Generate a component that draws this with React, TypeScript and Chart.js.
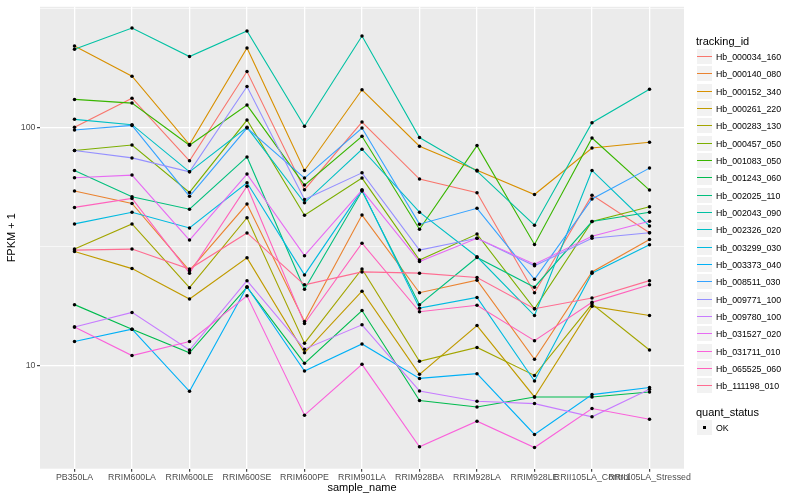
import React, { useEffect, useRef } from "react";
import { Chart, registerables } from "chart.js";

Chart.register(...registerables);

const categories = [
  "PB350LA",
  "RRIM600LA",
  "RRIM600LE",
  "RRIM600SE",
  "RRIM600PE",
  "RRIM901LA",
  "RRIM928BA",
  "RRIM928LA",
  "RRIM928LE",
  "RRII105LA_Control",
  "RRII105LA_Stressed",
];

const seriesNames = [
  "Hb_000034_160",
  "Hb_000140_080",
  "Hb_000152_340",
  "Hb_000261_220",
  "Hb_000283_130",
  "Hb_000457_050",
  "Hb_001083_050",
  "Hb_001243_060",
  "Hb_002025_110",
  "Hb_002043_090",
  "Hb_002326_020",
  "Hb_003299_030",
  "Hb_003373_040",
  "Hb_008511_030",
  "Hb_009771_100",
  "Hb_009780_100",
  "Hb_031527_020",
  "Hb_031711_010",
  "Hb_065525_060",
  "Hb_111198_010",
];

const seriesColors = [
  "#F8766D", "#EA8331", "#D89000", "#C09B00", "#A3A500",
  "#7CAE00", "#39B600", "#00BB4E", "#00BF7D", "#00C1A3",
  "#00BFC4", "#00BAE0", "#00B0F6", "#35A2FF", "#9590FF",
  "#C77CFF", "#E76BF3", "#FA62DB", "#FF62BC", "#FF6C91",
];

// FPKM + 1 values, one per sample
const hb000034_160 = [100, 132.6, 72.3, 171.5, 54.7, 105.2, 60.6, 53.1, 20.2, 51.9, 36.1];
const hb000140_080 = [54.0, 47.9, 25.0, 47.6, 15.3, 42.8, 20.2, 22.8, 10.6, 24.7, 33.8];
const hb000152_340 = [219.7, 163.9, 84.7, 215.5, 65.9, 143.8, 83.3, 66.1, 52.2, 81.9, 86.5];
const hb000261_220 = [30.1, 25.5, 19.0, 28.3, 11.3, 20.5, 9.17, 14.7, 7.37, 17.7, 16.2];
const hb000283_130 = [30.8, 39.3, 21.2, 41.7, 12.4, 25.4, 10.4, 11.9, 9.08, 18.1, 11.6];
const hb000457_050 = [79.9, 84.3, 53.3, 107.3, 42.7, 61.2, 27.7, 35.6, 17.3, 40.2, 46.4];
const hb001083_050 = [131.0, 126.4, 84.1, 124.0, 57.2, 91.7, 37.3, 83.8, 32.2, 90.2, 54.5];
const hb001243_060 = [18.0, 14.2, 11.3, 21.3, 10.2, 17.0, 7.12, 6.69, 7.37, 7.37, 7.73];
const hb002025_110 = [65.9, 51.1, 45.3, 75.1, 20.9, 54.0, 18.0, 28.4, 21.3, 40.2, 44.0];
const hb002043_090 = [212.6, 261.3, 198.2, 253.9, 101.0, 241.9, 90.6, 65.5, 38.8, 104.6, 144.6];
const hb002326_020 = [108.0, 102.6, 65.0, 100.0, 48.2, 80.9, 44.0, 28.6, 16.2, 65.9, 38.5];
const hb003299_030 = [39.3, 44.0, 37.8, 58.5, 24.0, 54.5, 17.4, 19.3, 8.6, 24.4, 32.1];
const hb003373_040 = [12.6, 14.2, 7.78, 21.4, 9.47, 12.3, 8.82, 9.23, 5.13, 7.54, 8.07];
const hb008511_030 = [97.4, 101.9, 51.3, 99.3, 61.2, 99.3, 39.2, 45.7, 23.0, 50.0, 67.4];
const hb009771_100 = [79.9, 74.4, 65.0, 148.4, 49.8, 64.4, 30.5, 34.2, 26.2, 34.2, 36.1];
const hb009780_100 = [14.5, 16.7, 11.6, 22.7, 11.7, 14.8, 7.81, 7.07, 6.91, 6.08, 7.94];
const hb031527_020 = [61.4, 63.0, 33.6, 63.6, 28.9, 54.5, 27.3, 34.2, 26.6, 34.9, 40.3];
const hb031711_010 = [14.5, 11.0, 12.6, 19.6, 6.18, 10.1, 4.55, 5.83, 4.52, 6.59, 5.94];
const hb065525_060 = [46.1, 50.3, 24.4, 56.6, 15.0, 32.6, 16.8, 17.9, 12.7, 18.4, 21.8];
const hb111198_010 = [30.5, 30.8, 25.4, 36.0, 21.8, 24.7, 24.4, 23.4, 17.3, 19.2, 22.7];

const seriesValues = [
  hb000034_160, hb000140_080, hb000152_340, hb000261_220, hb000283_130,
  hb000457_050, hb001083_050, hb001243_060, hb002025_110, hb002043_090,
  hb002326_020, hb003299_030, hb003373_040, hb008511_030, hb009771_100,
  hb009780_100, hb031527_020, hb031711_010, hb065525_060, hb111198_010,
];

const yMajorTicks = [10, 100];
const yMinorTicks = [31.6228, 316.228];
const quantStatus = ["OK"];

const FONT = '"Liberation Sans", Arial, Helvetica, sans-serif';

const panelBg = {
  id: "panelBg",
  beforeDraw(chart: any) {
    const { ctx, chartArea } = chart;
    ctx.save();
    ctx.fillStyle = "#EBEBEB";
    ctx.fillRect(chartArea.left, chartArea.top, chartArea.right - chartArea.left, chartArea.bottom - chartArea.top);
    ctx.restore();
  },
};

const pointsOnTop = {
  id: "pointsOnTop",
  afterDatasetsDraw(chart: any) {
    const { ctx } = chart;
    ctx.save();
    ctx.fillStyle = "#000000";
    chart.data.datasets.forEach((_: any, di: number) => {
      const meta = chart.getDatasetMeta(di);
      meta.data.forEach((el: any) => {
        ctx.beginPath();
        ctx.arc(el.x, el.y, 1.75, 0, Math.PI * 2);
        ctx.fill();
      });
    });
    ctx.restore();
  },
};

const isMajor = (v: number) => yMajorTicks.some((m) => Math.abs(m - v) < 1e-6);

export default function App() {
  const canvasRef = useRef<HTMLCanvasElement | null>(null);

  useEffect(() => {
    if (!canvasRef.current) return;
    const chart = new Chart(canvasRef.current, {
      type: "line",
      data: {
        datasets: seriesValues.map((vals, si) => ({
          label: seriesNames[si],
          data: vals.map((v, i) => ({ x: i + 1, y: v })),
          borderColor: seriesColors[si],
          backgroundColor: seriesColors[si],
          borderWidth: 1.1,
          pointRadius: 0,
          tension: 0,
          fill: false,
          order: seriesValues.length - si,
        })),
      },
      options: {
        animation: false,
        responsive: false,
        events: [],
        layout: { padding: { top: 5, right: 116, left: 0, bottom: 0 } },
        plugins: { legend: { display: false }, tooltip: { enabled: false } },
        scales: {
          x: {
            type: "linear",
            min: 0.4,
            max: 11.6,
            afterBuildTicks: (s: any) => {
              s.ticks = categories.map((_, i) => ({ value: i + 1 }));
            },
            afterFit: (s: any) => {
              s.height = 31.3;
            },
            ticks: {
              autoSkip: false,
              maxRotation: 0,
              minRotation: 0,
              padding: 1,
              color: "#4D4D4D",
              font: { family: FONT, size: 8.8 },
              callback: (_v: any, i: number) => categories[i],
            },
            grid: {
              color: "#FFFFFF",
              lineWidth: 1.3,
              drawTicks: true,
              tickLength: 3,
              tickColor: "#333333",
              tickWidth: 1.1,
            },
            border: { display: false },
            title: {
              display: true,
              text: "sample_name",
              color: "#000000",
              font: { family: FONT, size: 11 },
              padding: { top: 0, bottom: 5 },
            },
          },
          y: {
            type: "logarithmic",
            min: 3.682,
            max: 320.9,
            afterBuildTicks: (s: any) => {
              s.ticks = [...yMajorTicks, ...yMinorTicks].sort((a, b) => a - b).map((v) => ({ value: v }));
            },
            afterFit: (s: any) => {
              s.width = 40;
            },
            ticks: {
              autoSkip: false,
              padding: 1.5,
              color: "#4D4D4D",
              font: { family: FONT, size: 8.8 },
              callback: (v: any) => (isMajor(Number(v)) ? String(Math.round(Number(v))) : ""),
            },
            grid: {
              color: "#FFFFFF",
              lineWidth: (ctx: any) => (ctx.tick && isMajor(ctx.tick.value) ? 1.3 : 0.6),
              drawTicks: true,
              tickLength: 3,
              tickColor: (ctx: any) => (ctx.tick && isMajor(ctx.tick.value) ? "#333333" : "rgba(0,0,0,0)"),
              tickWidth: 1.1,
            },
            border: { display: false },
            title: {
              display: true,
              text: "FPKM + 1",
              color: "#000000",
              font: { family: FONT, size: 11 },
              padding: { top: 5.4, bottom: 0 },
            },
          },
        },
      },
      plugins: [panelBg, pointsOnTop],
    } as any);
    return () => chart.destroy();
  }, []);

  const rowH = 17.32;
  const firstRow = 56.7;

  return (
    <div style={{ position: "fixed", left: 0, top: 0, width: 800, height: 500, background: "#FFFFFF", fontFamily: FONT }}>
      <canvas ref={canvasRef} width={800} height={500} style={{ position: "absolute", left: 0, top: 0, width: 800, height: 500 }} />
      <div style={{ position: "absolute", left: 696, top: 34, height: 14, lineHeight: "14px", fontSize: 11, color: "#000" }}>
        tracking_id
      </div>
      {seriesNames.map((name, i) => {
        const top = Math.round(firstRow + rowH * i - 8.64);
        return (
          <React.Fragment key={name}>
            <div
              style={{
                position: "absolute",
                left: 696,
                top,
                width: 17,
                height: 17,
                boxSizing: "border-box",
                background: "#F2F2F2",
                border: "1px solid #FFFFFF",
              }}
            >
              <div style={{ position: "absolute", left: 0, right: 0, top: 7, height: 1, background: seriesColors[i] }} />
            </div>
            <div style={{ position: "absolute", left: 716, top: top + 1.5, height: 14, lineHeight: "14px", fontSize: 8.8, color: "#000", whiteSpace: "nowrap" }}>
              {name}
            </div>
          </React.Fragment>
        );
      })}
      <div style={{ position: "absolute", left: 696, top: 405, height: 14, lineHeight: "14px", fontSize: 11, color: "#000" }}>
        quant_status
      </div>
      {quantStatus.map((q, i) => {
        const top = Math.round(427.3 + rowH * i - 8.64);
        return (
          <React.Fragment key={q}>
            <div
              style={{
                position: "absolute",
                left: 696,
                top,
                width: 17,
                height: 17,
                boxSizing: "border-box",
                background: "#F2F2F2",
                border: "1px solid #FFFFFF",
              }}
            >
              <div style={{ position: "absolute", left: 6, top: 6, width: 3, height: 3, background: "#000" }} />
            </div>
            <div style={{ position: "absolute", left: 716, top: top + 1.5, height: 14, lineHeight: "14px", fontSize: 8.8, color: "#000" }}>
              {q}
            </div>
          </React.Fragment>
        );
      })}
    </div>
  );
}
